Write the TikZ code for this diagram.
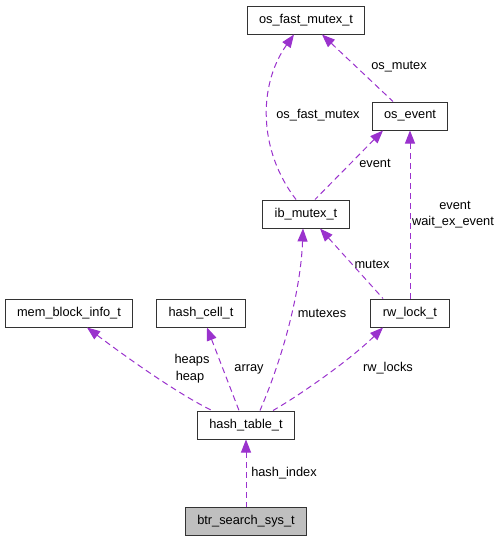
\documentclass[tikz,border=0pt]{standalone}
\usepackage{fontspec}
\setmainfont{Liberation Sans}
\usetikzlibrary{arrows.meta}
\definecolor{viola}{HTML}{9A32CD}
\tikzset{
>={Triangle[length=13pt,width=10pt]},
tipo/.style={draw=black!80,line width=1pt,fill=white,minimum height=28pt,inner xsep=12pt,inner ysep=0pt},
campo/.style={inner sep=0pt},
freccia/.style={<-,viola,line width=1pt,dash pattern=on 6pt off 4pt}}

\begin{document}
\begin{tikzpicture}[x=1pt,y=-1pt,font=\fontsize{12.8}{15}\selectfont]

\useasboundingbox (0,0) rectangle (501,541);

\node[tipo] (fast) at (306,20) {os\_fast\_mutex\_t};
\node[tipo] (event) at (410,116) {os\_event};
\node[tipo] (ibm) at (306,214) {ib\_mutex\_t};
\node[tipo] (mem) at (69,313) {mem\_block\_info\_t};
\node[tipo] (cell) at (201,313) {hash\_cell\_t};
\node[tipo] (rw) at (410,313) {rw\_lock\_t};
\node[tipo] (ht) at (246,425) {hash\_table\_t};
\node[tipo,fill=black!25] (btr) at (246,521) {btr\_search\_sys\_t};

\draw[freccia] ([xshift=16pt]fast.south) -- ([xshift=-17pt]event.north);
\draw[freccia] ([xshift=-12pt]fast.south) .. controls (258,85) and (258,150) .. ([xshift=-10pt]ibm.north);
\draw[freccia] ([xshift=-27pt]event.south) -- ([xshift=9pt]ibm.north);
\draw[freccia] (event.south) -- (rw.north);
\draw[freccia] ([xshift=14pt]ibm.south) -- ([xshift=-27pt]rw.north);
\draw[freccia] ([xshift=-3pt]ibm.south) .. controls (301,285) and (286,350) .. ([xshift=14pt]ht.north);
\draw[freccia] ([xshift=18pt]mem.south) .. controls (130,360) and (180,395) .. ([xshift=-34pt]ht.north);
\draw[freccia] ([xshift=6pt]cell.south) -- ([xshift=-7pt]ht.north);
\draw[freccia] ([xshift=-27pt]rw.south) .. controls (350,360) and (300,395) .. ([xshift=27pt]ht.north);
\draw[freccia] (ht.south) -- (btr.north);

\node[campo] (l1) at (399,67) {os\_mutex};
\node[campo] (l2) at (318,115) {os\_fast\_mutex};
\node[campo] (l3) at (375,163) {event};
\node[campo] (l4) at (455,205) {event};
\node[campo] (l5) at (453,222) {wait\_ex\_event};
\node[campo] (l6) at (372,264) {mutex};
\node[campo] (l7) at (322,313) {mutexes};
\node[campo] (l8) at (192,360) {heaps};
\node[campo] (l9) at (190,377) {heap};
\node[campo] (l10) at (249,369) {array};
\node[campo] (l11) at (388,368) {rw\_locks};
\node[campo] (l12) at (284,473) {hash\_index};

\end{tikzpicture}
\end{document}
